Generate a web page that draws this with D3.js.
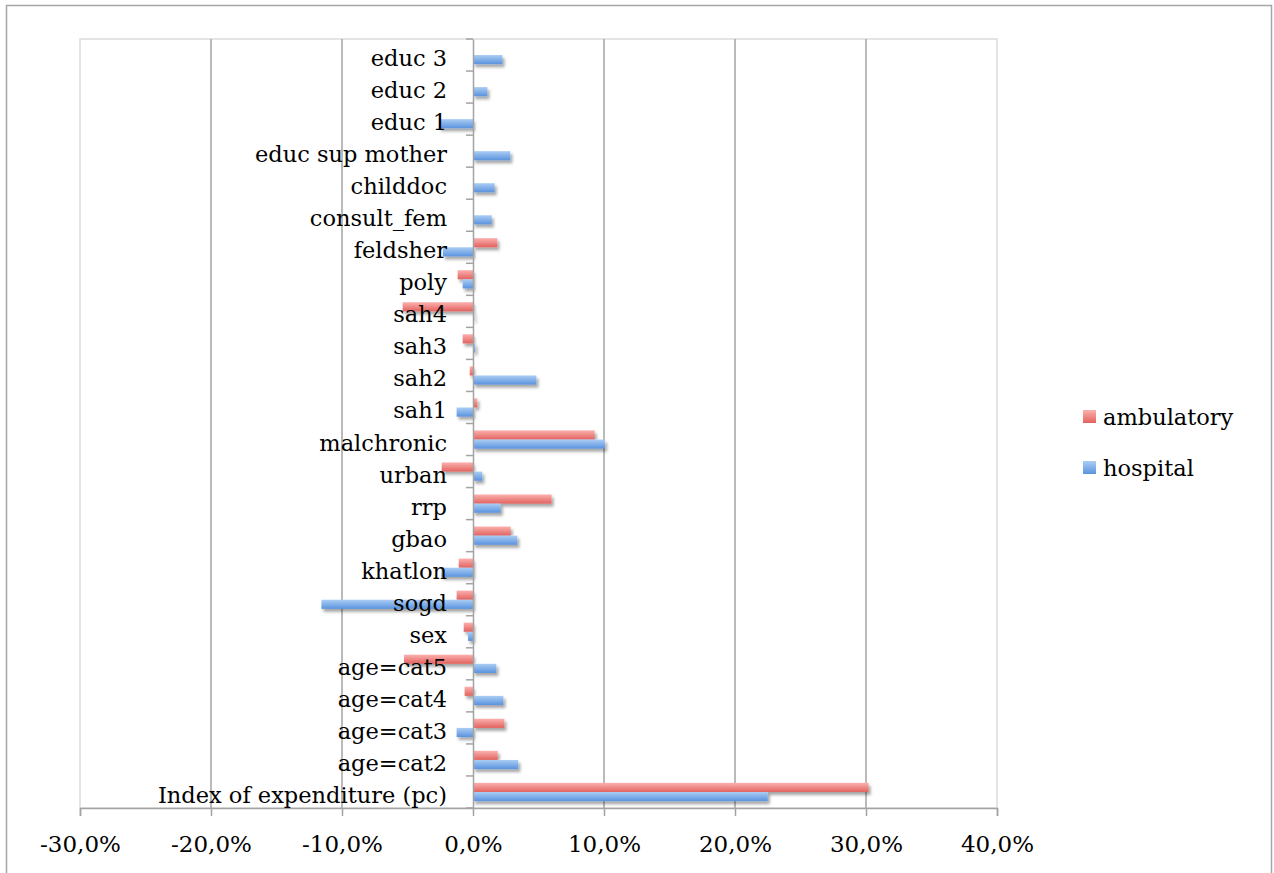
<!DOCTYPE html>
<html>
<head>
<meta charset="utf-8">
<script src="https://cdn.jsdelivr.net/npm/d3@7"></script>
<style>
  html, body { margin: 0; padding: 0; background: #fff; }
  svg { display: block; }
  text { fill: #000; }
</style>
</head>
<body>
<script>
// ---- Data (top-level, small named arrays) ----
const categories = [
  "educ 3", "educ 2", "educ 1", "educ sup mother", "childdoc", "consult_fem",
  "feldsher", "poly", "sah4", "sah3", "sah2", "sah1", "malchronic", "urban",
  "rrp", "gbao", "khatlon", "sogd", "sex", "age=cat5", "age=cat4", "age=cat3",
  "age=cat2", "Index of expenditure (pc)"
];
const seriesNames = ["ambulatory", "hospital"];
const ambulatory = [
  0.0, 0.0, 0.0, 0.0, 0.0, 0.0,
  1.86, -1.17, -5.37, -0.79, -0.25, 0.33, 9.29, -2.39,
  6.0, 2.88, -1.09, -1.25, -0.71, -5.27, -0.64, 2.4,
  1.89, 30.2
];
const hospital = [
  2.25, 1.1, -2.6, 2.85, 1.65, 1.43,
  -2.3, -0.79, 0.1, 0.18, 4.84, -1.25, 10.08, 0.71,
  2.12, 3.39, -2.41, -11.57, -0.38, 1.78, 2.32, -1.25,
  3.46, 22.5
];
const xTicks = [-30, -20, -10, 0, 10, 20, 30, 40];
const xTickLabels = ["-30,0%", "-20,0%", "-10,0%", "0,0%", "10,0%", "20,0%", "30,0%", "40,0%"];

// ---- Layout ----
const W = 1274, H = 873;
const plot = { left: 80, right: 997, top: 39, bottom: 808 };
const FONT = "DejaVu Serif, Liberation Serif, serif";

const svg = d3.select("body").append("svg").attr("width", W).attr("height", H);
const defs = svg.append("defs");

function grad(id, c1, c2) {
  const g = defs.append("linearGradient").attr("id", id)
    .attr("x1", 0).attr("y1", 0).attr("x2", 0).attr("y2", 1);
  g.append("stop").attr("offset", "0%").attr("stop-color", c1);
  g.append("stop").attr("offset", "100%").attr("stop-color", c2);
}
grad("gAmb", "#fbb1af", "#e2625e");
grad("gHosp", "#abcdf5", "#5a93dd");
const f = defs.append("filter").attr("id", "shadow")
  .attr("x", "-10%").attr("y", "-50%").attr("width", "130%").attr("height", "250%");
f.append("feDropShadow").attr("dx", 2).attr("dy", 3).attr("stdDeviation", 1.6)
  .attr("flood-color", "#000").attr("flood-opacity", 0.35);

// outer frame
svg.append("path")
  .attr("d", `M6.5,${H} V5.5 H1271.5 V${H}`)
  .attr("fill", "none").attr("stroke", "#a6a6a6").attr("stroke-width", 1.5);

const x = d3.scaleLinear().domain([-30, 40]).range([plot.left, plot.right]);
const y = d3.scaleBand().domain(categories).range([plot.top, plot.bottom]);
const bw = y.bandwidth() / 3.5;
const ySub = d3.scaleBand().domain(seriesNames)
  .range([0.75 * bw, 2.75 * bw]);

// plot area border
svg.append("rect")
  .attr("x", plot.left).attr("y", plot.top)
  .attr("width", plot.right - plot.left).attr("height", plot.bottom - plot.top)
  .attr("fill", "none").attr("stroke", "#dcdcdc").attr("stroke-width", 1.5);

// gridlines
svg.append("g").selectAll("line")
  .data(xTicks.filter(t => t !== 0 && t !== -30 && t !== 40))
  .join("line")
  .attr("x1", d => x(d)).attr("x2", d => x(d))
  .attr("y1", plot.top).attr("y2", plot.bottom)
  .attr("stroke", "#a3a3a3").attr("stroke-width", 1.5);

// x axis
const xAxis = d3.axisBottom(x).tickValues(xTicks)
  .tickFormat((d, i) => xTickLabels[i]).tickSize(8).tickPadding(19);
const gx = svg.append("g").attr("transform", `translate(0,${plot.bottom})`).call(xAxis);
gx.attr("font-family", FONT).attr("font-size", 23);
gx.select(".domain").attr("stroke", "#a3a3a3").attr("stroke-width", 1.5);
gx.selectAll(".tick line").attr("stroke", "#a3a3a3").attr("stroke-width", 1.5);
gx.selectAll(".tick text").attr("fill", "#000").attr("dy", "0.75em");

// bars
const data = [];
categories.forEach((c, i) => {
  data.push({ cat: c, s: "ambulatory", v: ambulatory[i] });
  data.push({ cat: c, s: "hospital", v: hospital[i] });
});
svg.append("g").attr("filter", "url(#shadow)").selectAll("rect")
  .data(data.filter(d => d.v !== 0))
  .join("rect")
  .attr("x", d => x(Math.min(0, d.v)))
  .attr("width", d => Math.abs(x(d.v) - x(0)))
  .attr("y", d => y(d.cat) + ySub(d.s))
  .attr("height", ySub.bandwidth())
  .attr("fill", d => d.s === "ambulatory" ? "url(#gAmb)" : "url(#gHosp)");

// y axis at zero
const yAxis = d3.axisLeft(y).tickSize(0).tickFormat("");
const gy = svg.append("g").attr("transform", `translate(${x(0)},0)`).call(yAxis);
gy.select(".domain").attr("stroke", "#a3a3a3").attr("stroke-width", 1.5);
// ticks at band boundaries
const bounds = categories.map(c => y(c)).concat([plot.bottom]);
svg.append("g").selectAll("line").data(bounds).join("line")
  .attr("x1", x(0) - 7).attr("x2", x(0))
  .attr("y1", d => d).attr("y2", d => d)
  .attr("stroke", "#a3a3a3").attr("stroke-width", 1.5);

// category labels
svg.append("g").selectAll("text").data(categories).join("text")
  .attr("x", x(0) - 26)
  .attr("y", d => y(d) + y.bandwidth() / 2 + 11)
  .attr("text-anchor", "end")
  .attr("font-size", 22.5)
  .attr("font-family", FONT)
  .text(d => d);

// legend
const legY = [416, 467];
const lg = svg.append("g").selectAll("g").data(seriesNames).join("g")
  .attr("transform", (d, i) => `translate(1083,${legY[i]})`);
lg.append("rect").attr("x", 0).attr("y", -6).attr("width", 13).attr("height", 13)
  .attr("fill", d => d === "ambulatory" ? "url(#gAmb)" : "url(#gHosp)");
lg.append("text").attr("x", 20).attr("y", 9)
  .attr("font-size", 22.5).attr("font-family", FONT)
  .text(d => d);
</script>
</body>
</html>
